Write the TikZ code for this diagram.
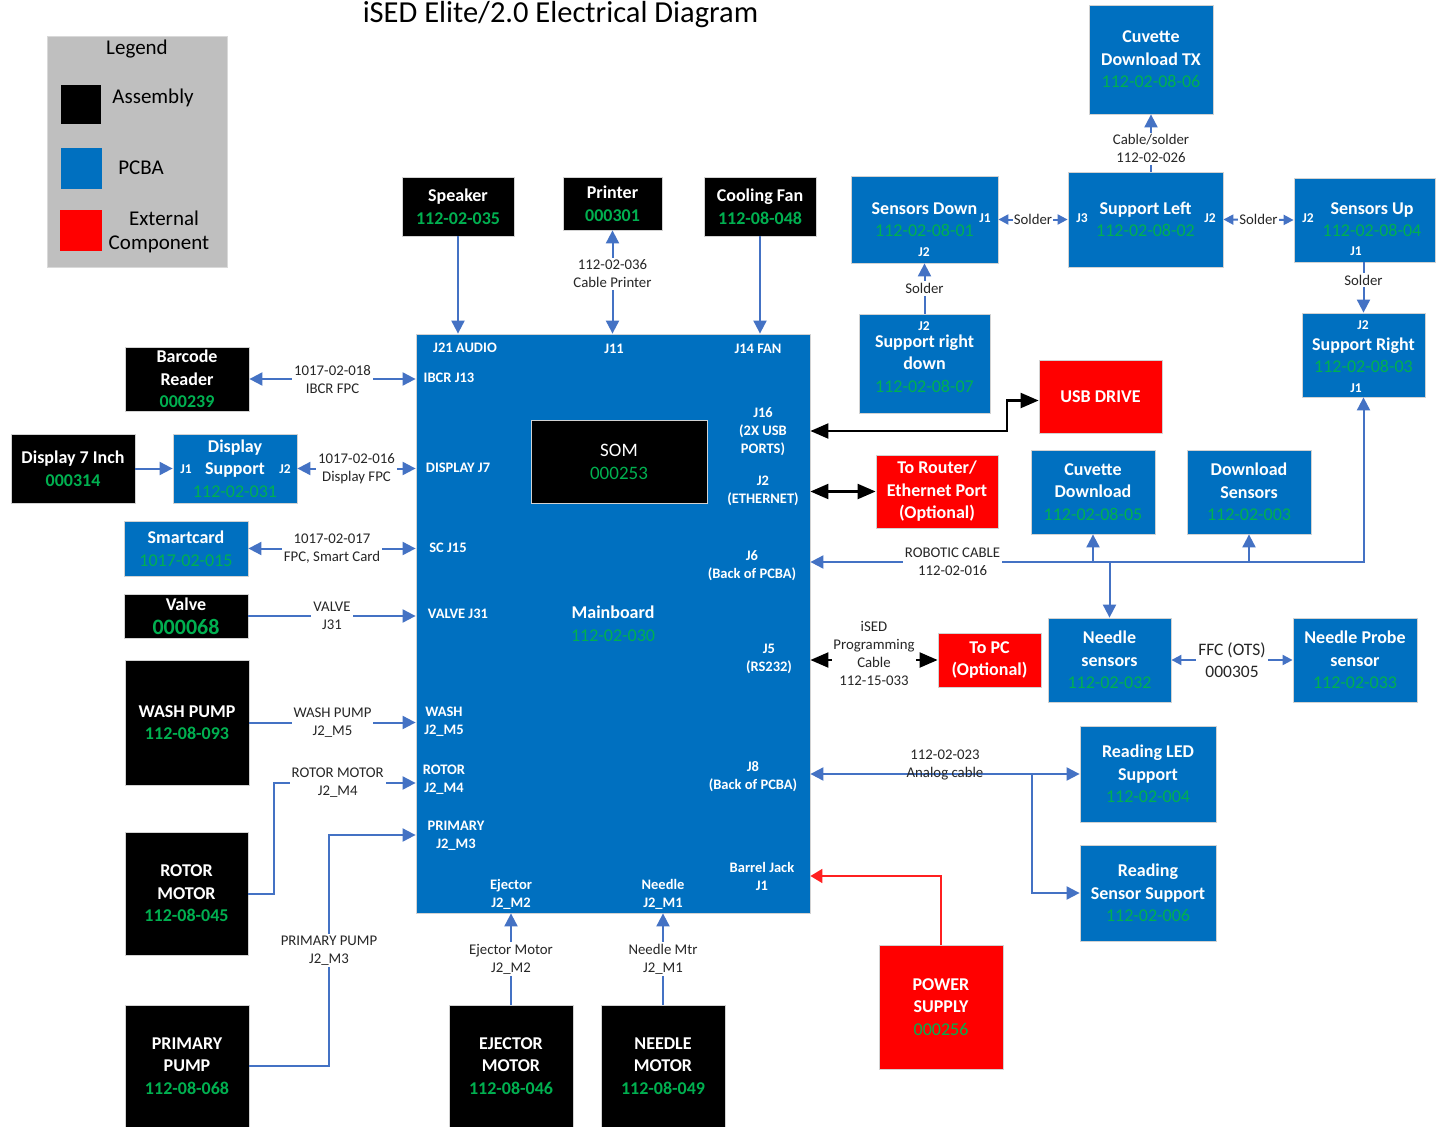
\documentclass[tikz,border=0pt]{standalone}
\usepackage{fontspec}
\setmainfont{Carlito}
\usetikzlibrary{arrows.meta}
\definecolor{pblue}{HTML}{0070C0}
\definecolor{grn}{HTML}{00B050}
\definecolor{cblue}{HTML}{4472C4}
\definecolor{lgray}{HTML}{BFBFBF}
\definecolor{txtc}{HTML}{262626}
\definecolor{rline}{HTML}{FF2020}
\newcommand{\gnum}[1]{{\mdseries\color{grn}#1}}
\newcommand{\gnumb}[1]{{\color{grn}#1}}
\tikzset{
  wh/.style 2 args={minimum width=#1pt, minimum height=#2pt},
  box/.style={draw=gray!35, line width=0.8pt, inner sep=0pt, align=center, text=white,
              font=\fontsize{18}{22.5}\selectfont\bfseries},
  asm/.style={box, fill=black},
  pcb/.style={box, fill=pblue},
  ext/.style={box, fill=red},
  port/.style={text=white, font=\fontsize{14.5}{18}\selectfont\bfseries, align=center, inner sep=0pt},
  jl/.style={text=white, font=\fontsize{13.5}{16}\selectfont\bfseries, inner sep=0pt},
  lbl/.style={fill=white, text=txtc, font=\fontsize{14.8}{18}\selectfont, align=center, inner sep=2pt},
  lgt/.style={text=black, font=\fontsize{21}{24}\selectfont, align=center, inner sep=0pt},
  conn/.style={draw=cblue, line width=2pt},
  ah/.style={-{Triangle[length=13pt,width=13pt]}},
  dah/.style={{Triangle[length=13pt,width=13pt]}-{Triangle[length=13pt,width=13pt]}},
  sah/.style={-{Triangle[length=10pt,width=10pt]}},
  sdah/.style={{Triangle[length=10pt,width=10pt]}-{Triangle[length=10pt,width=10pt]}},
  blk/.style={draw=black, line width=2.2pt, {Triangle[length=18pt,width=15pt]}-{Triangle[length=18pt,width=15pt]}},
}
\begin{document}
\begin{tikzpicture}[x=1pt,y=-1pt]
\useasboundingbox (0,0) rectangle (1441,1127);
\fill[white] (0,0) rectangle (1441,1127);

% title
\node[font=\fontsize{30.5}{36}\selectfont, anchor=base, inner sep=0pt] (title) at (560.5,22) {iSED Elite/2.0 Electrical Diagram};

% legend
\node[fill=lgray, draw=gray!30, wh={180}{231}, inner sep=0pt] (legend) at (137,151.5) {};
\node[lgt] (legt) at (137,49) {Legend};
\node[fill=black, wh={40}{39}, inner sep=0pt] (lgA) at (81,104.5) {};
\node[fill=pblue, wh={41}{41}, inner sep=0pt] (lgP) at (81.5,168.5) {};
\node[fill=red, wh={42}{41}, inner sep=0pt] (lgE) at (81,230.5) {};
\node[lgt] (lgAt) at (153,98) {Assembly};
\node[lgt] (lgPt) at (141,168) {PCBA};
\node[lgt] (lgEt1) at (164,218) {External};
\node[lgt] (lgEt2) at (159,244) {Component};

% top assemblies
\node[asm, wh={112}{59}] (spk) at (458,206.5) {Speaker\\\gnumb{112-02-035}};
\node[asm, wh={99}{53}] (prn) at (612.5,203.5) {Printer\\\gnumb{000301}};
\node[asm, wh={112}{59}] (fan) at (760,206.5) {Cooling Fan\\\gnumb{112-08-048}};

% mainboard
\node[pcb, wh={394}{579}] (main) at (613,623.5) {Mainboard\\\gnum{112-02-030}};
\node[asm, wh={176}{83}, font=\fontsize{19}{23}\selectfont] (som) at (619,461.5) {SOM\\\gnum{000253}};

% mainboard port labels
\node[port] (p1) at (465,348) {J21 AUDIO};
\node[port] (p2) at (614,349) {J11};
\node[port] (p3) at (758,349) {J14 FAN};
\node[port] (p4) at (449,378) {IBCR J13};
\node[port] (p5) at (458,468) {DISPLAY J7};
\node[port] (p6) at (448,548) {SC J15};
\node[port] (p7) at (458,614) {VALVE J31};
\node[port] (p8) at (444,722) {WASH\\J2\_M5};
\node[port] (p9) at (444,780) {ROTOR\\J2\_M4};
\node[port] (p10) at (456,836) {PRIMARY\\J2\_M3};
\node[port] (p11) at (511,894) {Ejector\\J2\_M2};
\node[port] (p12) at (663,894) {Needle\\J2\_M1};
\node[port] (p13) at (762,876) {Barrel Jack\\J1};
\node[port] (p14) at (753,777) {J8\\(Back of PCBA)};
\node[port] (p15) at (769,659) {J5\\(RS232)};
\node[port] (p16) at (752,566) {J6\\(Back of PCBA)};
\node[port] (p17) at (763,491) {J2\\(ETHERNET)};
\node[port] (p18) at (763,431.5) {J16\\(2X USB\\PORTS)};

% left side
\node[asm, wh={124}{64}] (bcr) at (187,379) {Barcode\\Reader\\\gnumb{000239}};
\node[asm, wh={124}{69}] (d7) at (73,468.5) {Display 7 Inch\\\gnumb{000314}};
\node[pcb, wh={124}{69}] (dsup) at (235,468.5) {Display\\Support\\\gnum{112-02-031}};
\node[jl] (dsj1) at (186,469) {J1};
\node[jl] (dsj2) at (285,469) {J2};
\node[pcb, wh={124}{55}] (sc) at (186,548.5) {Smartcard\\\gnum{1017-02-015}};
\node[asm, wh={124}{44}, font=\fontsize{18}{24}\selectfont\bfseries] (vlv) at (186,616) {Valve\\{\fontsize{22}{24}\selectfont\color{grn}000068}};
\node[asm, wh={124}{125}] (wash) at (187,722.5) {WASH PUMP\\\gnumb{112-08-093}};
\node[asm, wh={123}{123}] (rot) at (186.5,893.5) {ROTOR\\MOTOR\\\gnumb{112-08-045}};
\node[asm, wh={124}{122}] (pp) at (187,1066) {PRIMARY\\PUMP\\\gnumb{112-08-068}};

% bottom
\node[asm, wh={124}{122}] (ejm) at (511,1066) {EJECTOR\\MOTOR\\\gnumb{112-08-046}};
\node[asm, wh={124}{122}] (ndm) at (663,1066) {NEEDLE\\MOTOR\\\gnumb{112-08-049}};

% right side
\node[ext, wh={123}{73}] (usb) at (1100.5,396.5) {USB DRIVE};
\node[ext, wh={122}{73}] (rt) at (937,491.5) {To Router/\\Ethernet Port\\(Optional)};
\node[ext, wh={103}{54}] (pc) at (989.5,660) {To PC\\(Optional)};
\node[pcb, wh={124}{84}] (cd) at (1093,492) {Cuvette\\Download\\\gnum{112-02-08-05}};
\node[pcb, wh={124}{84}] (dls) at (1249,492) {Download\\Sensors\\\gnum{112-02-003}};
\node[pcb, wh={123}{84}] (ns) at (1109.5,660) {Needle\\sensors\\\gnum{112-02-032}};
\node[pcb, wh={124}{84}] (np) at (1355,660) {Needle Probe\\sensor\\\gnum{112-02-033}};
\node[pcb, wh={136}{96}] (rl) at (1148,774) {Reading LED\\Support\\\gnum{112-02-004}};
\node[pcb, wh={136}{96}] (rs) at (1148,893) {Reading\\Sensor Support\\\gnum{112-02-006}};
\node[ext, wh={124}{124}] (ps) at (941,1007) {POWER\\SUPPLY\\\gnum{000256}};

% top right
\node[pcb, wh={124}{109}] (ctx) at (1151,59.5) {Cuvette\\Download TX\\\gnum{112-02-08-06}};
\node[pcb, wh={147}{87}] (sd) at (924.5,219.5) {Sensors Down\\\gnum{112-02-08-01}};
\node[jl] (sdj1) at (985,218) {J1};
\node[jl] (sdj2) at (924,252) {J2};
\node[pcb, wh={155}{95}] (sl) at (1145.5,219.5) {Support Left\\\gnum{112-02-08-02}};
\node[jl] (slj3) at (1082,218) {J3};
\node[jl] (slj2) at (1210,218) {J2};
\node[pcb, wh={141}{84}] (su) at (1364.5,220) {};
\node[box, draw=none] (sut) at (1372,219.5) {Sensors Up\\\gnum{112-02-08-04}};
\node[jl] (suj2) at (1308,218) {J2};
\node[jl] (suj1) at (1356,251) {J1};
\node[pcb, wh={131}{99}] (srd) at (924.5,363.5) {Support right\\down\\\gnum{112-02-08-07}};
\node[jl] (srdj2) at (924,326) {J2};
\node[pcb, wh={123}{84}] (sr) at (1363.5,355) {Support Right\\\gnum{112-02-08-03}};
\node[jl] (srj2) at (1363,325) {J2};
\node[jl] (srj1) at (1356,388) {J1};

% ---------- connectors ----------
\draw[conn, ah] (spk.south) -- (spk.south |- main.north);
\draw[conn, dah] (prn.south) -- (prn.south |- main.north) node[lbl, pos=0.42] (lprn) {112-02-036\\Cable Printer};
\draw[conn, ah] (fan.south) -- (fan.south |- main.north);

\draw[conn, dah] (bcr.east) -- (bcr.east -| main.west) node[lbl, midway] (lbcr) {1017-02-018\\IBCR FPC};
\draw[conn, ah] (d7.east) -- (dsup.west);
\draw[conn, dah] (dsup.east) -- (dsup.east -| main.west) node[lbl, midway] (lds) {1017-02-016\\Display FPC};
\draw[conn, dah] (sc.east) -- (sc.east -| main.west) node[lbl, midway] (lsc) {1017-02-017\\FPC, Smart Card};
\draw[conn, ah] (vlv.east) -- (vlv.east -| main.west) node[lbl, midway] (lvlv) {VALVE\\J31};
\draw[conn, ah] (wash.east) -- (wash.east -| main.west) node[lbl, midway] (lwash) {WASH PUMP\\J2\_M5};

\coordinate (rj) at (274,783);
\draw[conn, ah] (rot.east) -| (rj) -- (rj -| main.west) node[lbl, pos=0.45] (lrot) {ROTOR MOTOR\\J2\_M4};
\coordinate (pj) at (329,835);
\draw[conn, ah] (pp.east) -| (pj) node[lbl, pos=0.75] (lpp) {PRIMARY PUMP\\J2\_M3} -- (pj -| main.west);

\draw[conn, ah] (ejm.north) -- (ejm.north |- main.south) node[lbl, midway] (lejm) {Ejector Motor\\J2\_M2};
\draw[conn, ah] (ndm.north) -- (ndm.north |- main.south) node[lbl, midway] (lndm) {Needle Mtr\\J2\_M1};

\coordinate (bj) at (941,876);
\draw[draw=rline, line width=1.8pt, -{Triangle[length=12pt,width=14pt]}] (ps.north) -- (bj) -- (bj -| main.east);

\draw[conn, dah] (rl.west -| main.east) -- (rl.west) node[lbl, fill=none, midway, yshift=9pt] (lrl) {112-02-023\\Analog cable};
\coordinate (ab) at (1032,774);
\draw[conn, ah] (ab) |- (rs.west);

\draw[blk] (pc.west -| main.east) -- (pc.west) node[lbl, midway, yshift=7pt, inner sep=1pt] (lpc) {iSED\\Programming\\Cable\\112-15-033};
\draw[blk] (rt.west -| main.east) -- (rt.west);
\coordinate (ub) at (1007,431);
\draw[blk] (ub -| main.east) -- (ub) |- ([yshift=-4pt]usb.west);

\coordinate (rc) at (1363.5,562);
\draw[conn, dah] (rc -| main.east) -- (rc) node[lbl, pos=0.257] (lrc) {ROBOTIC CABLE\\112-02-016} -- (sr.south);
\draw[conn, ah] (cd.south |- rc) -- (cd.south);
\draw[conn, ah] (dls.south |- rc) -- (dls.south);
\draw[conn, ah] (ns.north |- rc) -- (ns.north);
\draw[conn, sdah] (ns.east) -- (np.west) node[lbl, midway, font=\fontsize{17.5}{22}\selectfont] (lffc) {FFC (OTS)\\000305};

\draw[conn, ah] (ctx.south |- sl.north) -- (ctx.south) node[lbl, pos=0.4] (lctx) {Cable/solder\\112-02-026};
\draw[conn, sdah] (sd.east) -- (sl.west) node[lbl, midway, inner sep=1pt] (ls1) {Solder};
\draw[conn, sdah] (sl.east) -- (su.west) node[lbl, midway, inner sep=1pt] (ls2) {Solder};
\draw[conn, ah] (srd.north) -- (sd.south) node[lbl, midway] (ls3) {Solder};
\draw[conn, ah] (sr.north |- su.south) -- (sr.north) node[lbl, pos=0.35] (ls4) {Solder};
\end{tikzpicture}
\end{document}
